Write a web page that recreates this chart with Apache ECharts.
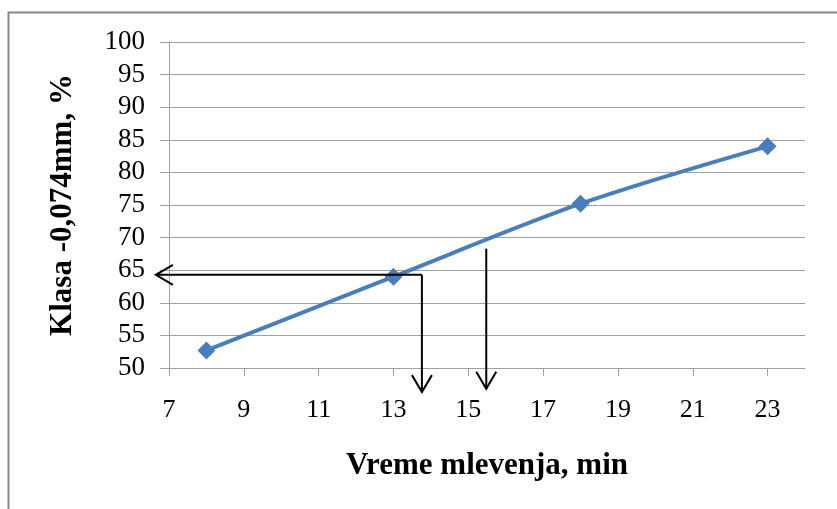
<!DOCTYPE html>
<html>
<head>
<meta charset="utf-8">
<script src="https://cdn.jsdelivr.net/npm/echarts@6/dist/echarts.min.js"></script>
<style>
html,body{margin:0;padding:0;background:#fff;}
#chart{width:837px;height:509px;}
</style>
</head>
<body>
<div id="chart"></div>
<script>
// Data
const timeMin = [8, 13, 18, 23];
const classPct = [52.7, 64.0, 75.2, 84.0];
const xTickValues = [7, 9, 11, 13, 15, 17, 19, 21, 23];
const yAxisTitle = 'Klasa -0,074mm, %';
const xAxisTitle = 'Vreme mlevenja, min';
// Arrow annotations: [fromX, fromY, toX, toY, hasHead]
const arrowSegments = [
  [13.76, 64.3, 6.65, 64.3, 1],
  [13.76, 64.3, 13.76, 46.3, 1],
  [15.48, 68.3, 15.48, 46.8, 1]
];

const chart = echarts.init(document.getElementById('chart'), null, {renderer: 'canvas'});
const FONT = 'Liberation Serif';
const GRID_GRAY = '#a0a0a0';

const option = {
  animation: false,
  backgroundColor: '#fff',
  graphic: [{
    type: 'rect',
    shape: {x: 8.5, y: 12.5, width: 900, height: 600},
    style: {fill: 'none', stroke: '#888', lineWidth: 2},
    z: -10
  }],
  grid: {left: 169, right: 32, top: 42, bottom: 141, containLabel: false},
  xAxis: {
    type: 'value',
    min: 7, max: 24, interval: 1,
    name: xAxisTitle,
    nameLocation: 'middle',
    nameGap: 82,
    nameTextStyle: {fontFamily: FONT, fontSize: 31, fontWeight: 'bold', color: '#000'},
    axisLine: {show: true, onZero: false, lineStyle: {color: GRID_GRAY, width: 1}},
    axisTick: {show: true, customValues: xTickValues, length: 8, lineStyle: {color: GRID_GRAY}},
    axisLabel: {customValues: xTickValues, fontFamily: FONT, fontSize: 26, color: '#000', margin: 29},
    splitLine: {show: false}
  },
  yAxis: {
    type: 'value',
    min: 50, max: 100, interval: 5,
    name: yAxisTitle,
    nameLocation: 'middle',
    nameRotate: 90,
    nameGap: 91,
    nameTextStyle: {fontFamily: FONT, fontSize: 31, fontWeight: 'bold', color: '#000'},
    axisLine: {show: true, lineStyle: {color: GRID_GRAY, width: 1}},
    axisTick: {show: true, length: 9, lineStyle: {color: GRID_GRAY}},
    axisLabel: {fontFamily: FONT, fontSize: 27, color: '#000', margin: 24},
    splitLine: {show: true, lineStyle: {color: GRID_GRAY, width: 1}}
  },
  series: [
    {
      type: 'line',
      data: timeMin.map((t, i) => [t, classPct[i]]),
      smooth: 0.3,
      symbol: 'diamond',
      symbolSize: 18,
      lineStyle: {color: '#4a7ebb', width: 4},
      itemStyle: {color: '#4a7ebb'},
      z: 3
    },
    {
      type: 'custom',
      data: arrowSegments,
      clip: false,
      z: 5,
      renderItem: function (params, api) {
        const p1 = api.coord([api.value(0), api.value(1)]);
        const p2 = api.coord([api.value(2), api.value(3)]);
        const dx = p2[0] - p1[0], dy = p2[1] - p1[1];
        const len = Math.sqrt(dx * dx + dy * dy) || 1;
        const ux = dx / len, uy = dy / len;
        const back = 17, half = 10;
        const bx = p2[0] - ux * back, by = p2[1] - uy * back;
        const nx = -uy, ny = ux;
        const children = [{
          type: 'line',
          shape: {x1: p1[0], y1: p1[1], x2: p2[0], y2: p2[1]},
          style: {stroke: '#000', lineWidth: 2}
        }];
        if (api.value(4)) {
          children.push({
            type: 'polyline',
            shape: {points: [[bx + nx * half, by + ny * half], [p2[0], p2[1]], [bx - nx * half, by - ny * half]]},
            style: {stroke: '#000', lineWidth: 2, fill: 'none'}
          });
        }
        return {type: 'group', children: children};
      }
    }
  ]
};
chart.setOption(option);
</script>
</body>
</html>
